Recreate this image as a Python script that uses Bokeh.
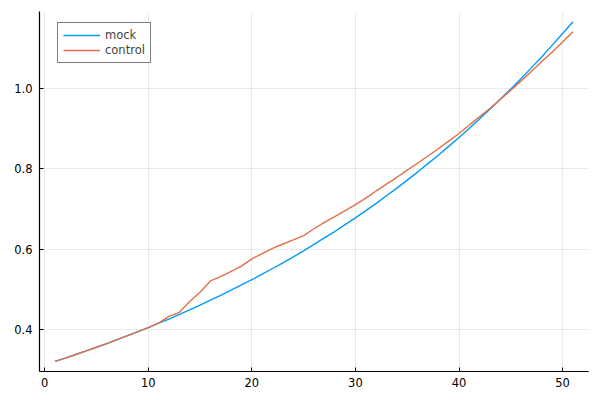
from bokeh.plotting import figure
from bokeh.models import FixedTicker, Range1d, NumeralTickFormatter, Legend, LegendItem
from bokeh.embed import file_html
from bokeh.resources import INLINE

x = list(range(1, 52))
mock = [0.321, 0.329, 0.338, 0.347, 0.356, 0.365, 0.375, 0.385, 0.395, 0.405,
        0.416, 0.426, 0.438, 0.449, 0.461, 0.473, 0.485, 0.498, 0.511, 0.524,
        0.538, 0.552, 0.566, 0.581, 0.596, 0.612, 0.628, 0.644, 0.661, 0.678,
        0.696, 0.714, 0.733, 0.752, 0.772, 0.792, 0.813, 0.834, 0.856, 0.878,
        0.901, 0.925, 0.949, 0.974, 0.999, 1.025, 1.052, 1.079, 1.108, 1.137,
        1.166]
control = [0.321, 0.329, 0.338, 0.347, 0.356, 0.365, 0.375, 0.385, 0.395, 0.405,
           0.416, 0.433, 0.443, 0.470, 0.493, 0.521, 0.532, 0.545, 0.558, 0.576,
           0.589, 0.602, 0.613, 0.623, 0.634, 0.651, 0.667, 0.681, 0.696, 0.711,
           0.727, 0.745, 0.762, 0.779, 0.797, 0.814, 0.832, 0.850, 0.869, 0.888,
           0.909, 0.930, 0.951, 0.973, 0.996, 1.019, 1.043, 1.067, 1.091, 1.116,
           1.141]
x_ticks = [0, 10, 20, 30, 40, 50]
y_ticks = [0.4, 0.6, 0.8, 1.0]
names = ["mock", "control"]
colors = ["#009AFA", "#E36F47"]

FONT = "DejaVu Sans"

p = figure(width=600, height=400, output_backend="svg", toolbar_location=None,
           x_range=Range1d(-0.5, 52.5), y_range=Range1d(0.2956, 1.1917),
           min_border_left=39, min_border_right=12, min_border_top=11, min_border_bottom=29)
p.outline_line_color = None
p.background_fill_color = "white"

r1 = p.line(x, mock, line_color=colors[0], line_width=1.4)
r2 = p.line(x, control, line_color=colors[1], line_width=1.4)

for ax in (p.xaxis[0], p.yaxis[0]):
    ax.axis_line_color = "#000000"
    ax.axis_line_width = 1.2
    ax.major_tick_in = 4
    ax.major_tick_out = 0
    ax.major_tick_line_color = "#000000"
    ax.minor_tick_line_color = None
    ax.major_label_text_font = FONT
    ax.major_label_text_font_size = "11.5px"
    ax.major_label_text_color = "#000000"

p.xaxis[0].ticker = FixedTicker(ticks=x_ticks)
p.yaxis[0].ticker = FixedTicker(ticks=y_ticks)
p.yaxis[0].formatter = NumeralTickFormatter(format="0.0")
p.xaxis[0].major_label_standoff = 6
p.yaxis[0].major_label_standoff = 7

p.xgrid.grid_line_color = "#000000"
p.xgrid.grid_line_alpha = 0.08
p.ygrid.grid_line_color = "#000000"
p.ygrid.grid_line_alpha = 0.08
p.xgrid.ticker = FixedTicker(ticks=x_ticks)
p.ygrid.ticker = FixedTicker(ticks=y_ticks)

legend = Legend(items=[LegendItem(label=names[0], renderers=[r1]),
                       LegendItem(label=names[1], renderers=[r2])],
                location=(18, 308), margin=0, padding=5, spacing=1,
                glyph_width=37, glyph_height=12, label_standoff=5,
                label_text_font=FONT, label_text_font_size="11.5px",
                label_height=12,
                border_line_color="#000000", border_line_width=1,
                background_fill_color="white", background_fill_alpha=1)
p.add_layout(legend, "center")

open("out.html", "w").write(file_html(p, INLINE))
